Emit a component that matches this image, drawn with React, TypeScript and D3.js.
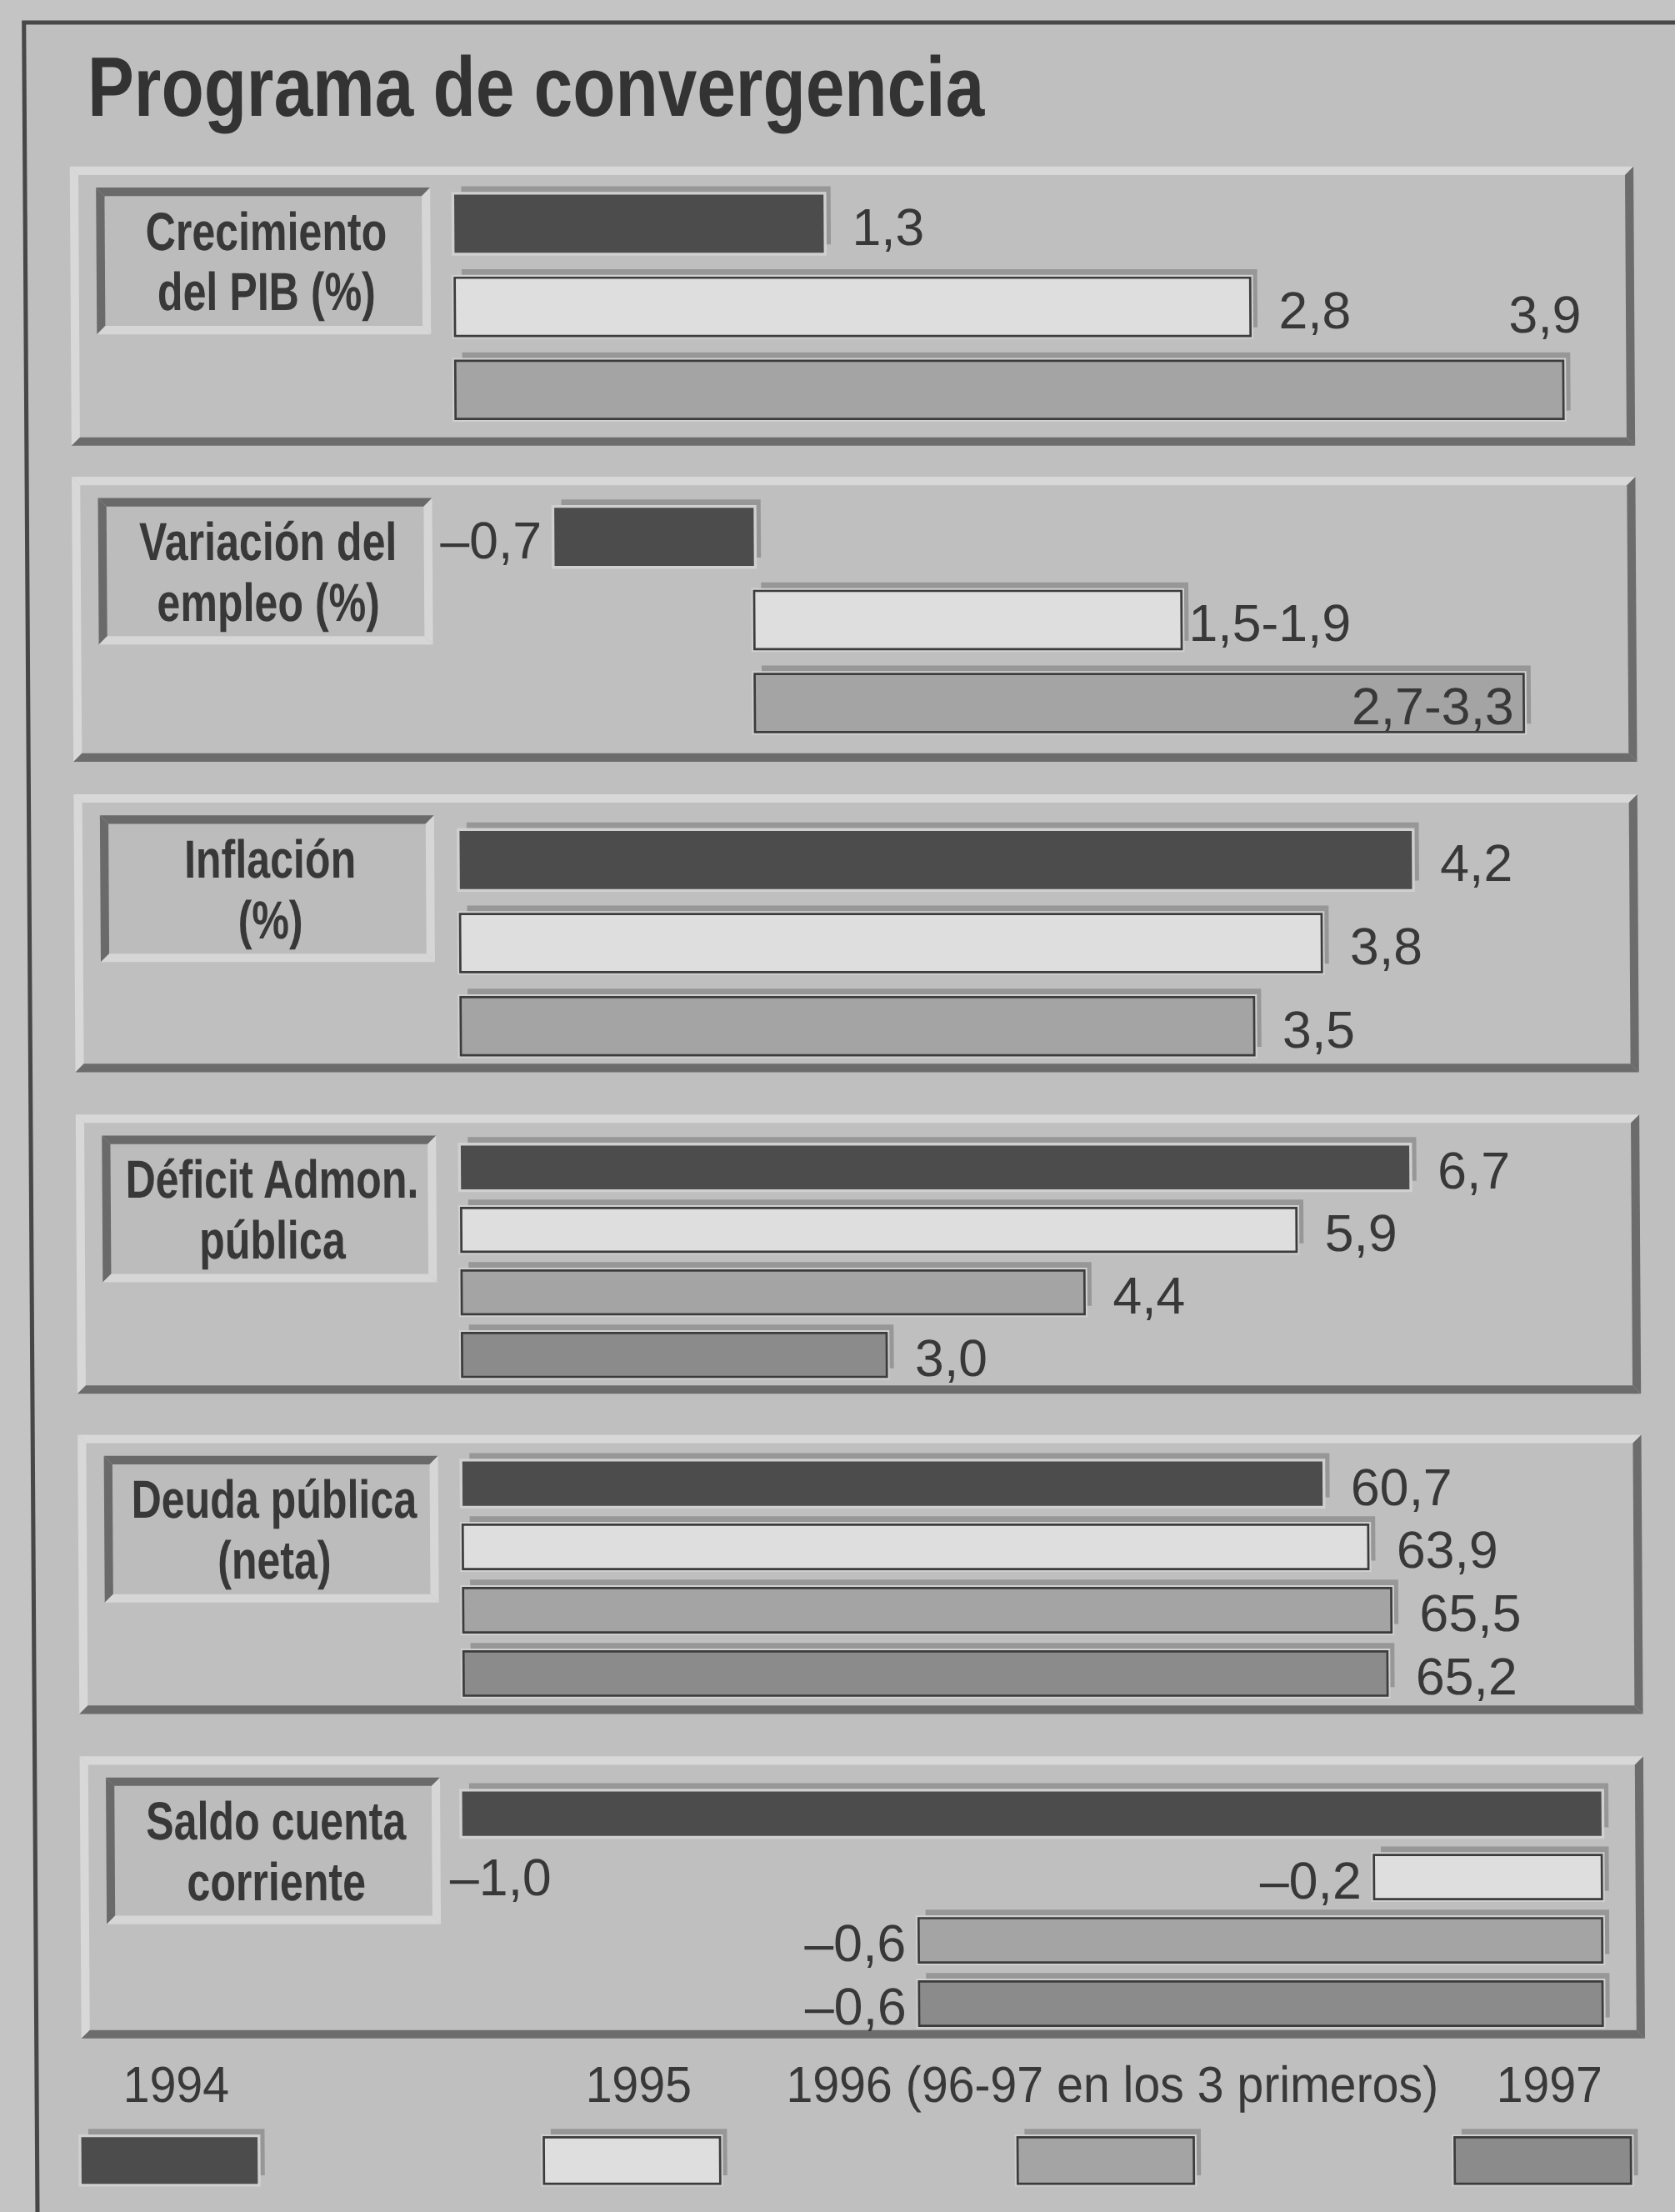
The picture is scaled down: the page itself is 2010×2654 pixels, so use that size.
import React from "react";
import * as d3 from "d3";

// ---------- data ----------
const TITLE = "Programa de convergencia";
const panelLabels: string[][] = [
  ["Crecimiento", "del PIB (%)"],
  ["Variación del", "empleo (%)"],
  ["Inflación", "(%)"],
  ["Déficit Admon.", "pública"],
  ["Deuda pública", "(neta)"],
  ["Saldo cuenta", "corriente"],
];
const legendLabels = ["1994", "1995", "1996 (96-97 en los 3 primeros)", "1997"];
const pibValues = [1.3, 2.8, 3.9];
const empleoLow = [-0.7, 1.5, 2.7];
const empleoHigh: (number | null)[] = [null, 1.9, 3.3];
const inflacionValues = [4.2, 3.8, 3.5];
const deficitValues = [6.7, 5.9, 4.4, 3.0];
const deudaValues = [60.7, 63.9, 65.5, 65.2];
const saldoValues = [-1.0, -0.2, -0.6, -0.6];

// ---------- style / layout ----------
const W = 2010, H = 2654;
const SX = W / 1188, SY = H / 1568;
const seriesFill = ["#4c4c4c", "#dedede", "#a4a4a4", "#8b8b8b"];
const BG = "#bfbfbf";
const TEXT = "#383838";
const FONT = "'Liberation Sans', Arial, Helvetica, sans-serif";

const panelTop = [118, 338, 563, 790, 1017, 1245];
const panelBottom = [316, 540, 760, 988, 1215, 1445];
const barExtent = [[138, 297], [360, 519], [589, 748], [812, 976], [1036, 1202], [1270, 1436]];
const PANEL_X0 = 49.5, PANEL_X1 = 1158.5;
const BOX_X0 = 68, BOX_X1 = 305, BOX_H = 104;
const legendSlots = [49, 377, 713, 1023];

const fmt1 = (v: number) => (v < 0 ? "–" : "") + d3.format(".1f")(Math.abs(v)).replace(".", ",");

type Mode = "after" | "afterTight" | "above" | "inside" | "before" | "belowStart";
interface Panel {
  values: number[];
  labels: string[];
  series: number[];
  scale: d3.ScaleLinear<number, number>;
  modes: Mode[];
}

const panels: Panel[] = [
  {
    values: pibValues, labels: pibValues.map(fmt1), series: [0, 1, 2],
    scale: d3.scaleLinear().domain([0, 4]).range([322, 322 + 4 * 201.5]),
    modes: ["after", "after", "above"],
  },
  {
    values: empleoLow,
    labels: empleoLow.map((v, i) => (empleoHigh[i] == null ? fmt1(v) : `${fmt1(v)}-${fmt1(empleoHigh[i] as number)}`)),
    series: [0, 1, 2],
    scale: d3.scaleLinear().domain([-1, 4]).range([533 - 202, 533 + 4 * 202]),
    modes: ["before", "afterTight", "inside"],
  },
  {
    values: inflacionValues, labels: inflacionValues.map(fmt1), series: [0, 1, 2],
    scale: d3.scaleLinear().domain([0, 5]).range([323, 323 + 5 * 160.8]),
    modes: ["after", "after", "after"],
  },
  {
    values: deficitValues, labels: deficitValues.map(fmt1), series: [0, 1, 2, 3],
    scale: d3.scaleLinear().domain([0, 7]).range([322.5, 322.5 + 7 * 100.4]),
    modes: ["after", "after", "after", "after"],
  },
  {
    values: deudaValues, labels: deudaValues.map(fmt1), series: [0, 1, 2, 3],
    scale: d3.scaleLinear().domain([0, 70]).range([322.2, 322.2 + 70 * 10.05]),
    modes: ["after", "after", "after", "after"],
  },
  {
    values: saldoValues, labels: saldoValues.map(fmt1), series: [0, 1, 2, 3],
    scale: d3.scaleLinear().domain([-1, 0]).range([1128.6 - 808, 1128.6]),
    modes: ["belowStart", "before", "before", "before"],
  },
];

function Bevel({ x, y, w, h, t, tl, br }: { x: number; y: number; w: number; h: number; t: number; tl: string; br: string }) {
  const p = (pts: number[][]) => pts.map((q) => q.join(",")).join(" ");
  return (
    <g>
      <polygon points={p([[x, y], [x + w, y], [x + w - t, y + t], [x + t, y + t]])} fill={tl} />
      <polygon points={p([[x, y], [x + t, y + t], [x + t, y + h - t], [x, y + h]])} fill={tl} />
      <polygon points={p([[x, y + h], [x + t, y + h - t], [x + w - t, y + h - t], [x + w, y + h]])} fill={br} />
      <polygon points={p([[x + w, y], [x + w, y + h], [x + w - t, y + h - t], [x + w - t, y + t]])} fill={br} />
    </g>
  );
}

function Bar({ x, y, w, h, s }: { x: number; y: number; w: number; h: number; s: number }) {
  return (
    <g>
      <rect x={x + 5} y={y - 6} width={w} height={h} fill="#8a8a8a" opacity={0.75} />
      <rect x={x - 2} y={y - 2} width={w + 4} height={h + 4} fill="#d0d0d0" />
      <rect x={x} y={y} width={w} height={h} fill={seriesFill[s]}
        stroke={s === 0 ? "none" : "#3c3c3c"} strokeWidth={s === 0 ? 0 : 1.6} />
    </g>
  );
}

export default function App() {
  const legendX = d3.scaleOrdinal<number, number>().domain([0, 1, 2, 3]).range(legendSlots);
  const SW = 125;
  return (
    <svg width={W} height={H} style={{ position: "absolute", left: 0, top: 0 }} fontFamily={FONT}>
      <rect x={0} y={0} width={W} height={H} fill="#c4c4c4" />
      <g transform={`scale(${SX},${SY}) translate(-0.73,0) skewX(0.355)`}>
        <rect x={17.6} y={16} width={1300} height={1700} fill={BG} stroke="#474747" strokeWidth={3} />
        <text x={62.4} y={82} fontSize={60} fontWeight="bold" fill="#333" textLength={636} lengthAdjust="spacingAndGlyphs">
          {TITLE}
        </text>

        {panels.map((P, pi) => {
          const top = panelTop[pi], bot = panelBottom[pi];
          const band = d3.scaleBand<number>().domain(P.values.map((_, i) => i)).range(barExtent[pi] as [number, number]).paddingInner(0.3).paddingOuter(0);
          const bh = band.bandwidth();
          const boxTop = top + 15;
          const cx = 188.5;
          return (
            <g key={pi}>
              <rect x={PANEL_X0} y={top} width={PANEL_X1 - PANEL_X0} height={bot - top} fill={BG} />
              <Bevel x={PANEL_X0} y={top} w={PANEL_X1 - PANEL_X0} h={bot - top} t={6} tl="#d8d8d8" br="#6c6c6c" />
              <rect x={BOX_X0} y={boxTop} width={BOX_X1 - BOX_X0} height={BOX_H} fill="#bcbcbc" />
              <Bevel x={BOX_X0} y={boxTop} w={BOX_X1 - BOX_X0} h={BOX_H} t={6} tl="#6a6a6a" br="#d6d6d6" />
              {panelLabels[pi].map((line, li) => (
                <text key={li} transform={`translate(${cx},${boxTop + 44 + li * 43}) scale(0.78,1)`}
                  textAnchor="middle" fontSize={38} fontWeight="bold" fill={TEXT}>
                  {line}
                </text>
              ))}
              {P.values.map((v, i) => {
                const y = band(i) as number;
                const x0 = P.scale(0), x1 = P.scale(v);
                const left = Math.min(x0, x1), right = Math.max(x0, x1);
                return <Bar key={i} x={left} y={y} w={right - left} h={bh} s={P.series[i]} />;
              })}
              {P.values.map((v, i) => {
                const y = band(i) as number;
                const x0 = P.scale(0), x1 = P.scale(v);
                const left = Math.min(x0, x1), right = Math.max(x0, x1);
                const cy = y + bh / 2 + 15;
                const m = P.modes[i];
                let tx = right + 20, ty = cy, anchor: "start" | "end" = "start";
                if (m === "afterTight") tx = right + 5;
                if (m === "above") { tx = right + 13; ty = y - 20; anchor = "end"; }
                if (m === "inside") { tx = right - 7; anchor = "end"; }
                if (m === "before") { tx = left - 9; anchor = "end"; }
                if (m === "belowStart") { tx = left - 9; ty = y + bh + 42; }
                return (
                  <text key={"l" + i} x={tx} y={ty} textAnchor={anchor} fontSize={37} fill={TEXT}>
                    {P.labels[i]}
                  </text>
                );
              })}
            </g>
          );
        })}

        {legendLabels.map((lab, i) => {
          const x = legendX(i) as number;
          return (
            <g key={"lg" + i}>
              <text transform={`translate(${x + SW / 2 + 5},1490) scale(0.94,1)`} textAnchor="middle" fontSize={36} fill={TEXT}>
                {lab}
              </text>
              <Bar x={x} y={1515} w={SW} h={33} s={i} />
            </g>
          );
        })}
      </g>
    </svg>
  );
}
